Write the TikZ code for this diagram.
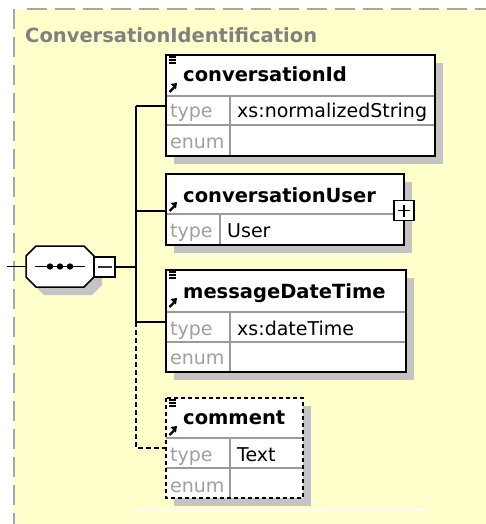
\documentclass[tikz,border=0pt]{standalone}
\usepackage{fontspec}
\setmainfont{DejaVu Sans}
\definecolor{panel}{HTML}{FFFFCC}
\definecolor{rim}{HTML}{A8A8A8}
\definecolor{dropgray}{HTML}{C4C4C4}
\definecolor{rule}{HTML}{9A9A9A}
\definecolor{faint}{HTML}{A0A0A0}
\definecolor{titlegray}{HTML}{808080}
\begin{document}
\begin{tikzpicture}[x=1pt,y=-1pt,
  wire/.style={line width=1.5pt, black},
  frame/.style={draw=black, line width=1.5pt, fill=white, inner sep=0pt, outer sep=0pt, anchor=north west},
  divider/.style={draw=rule, line width=1.2pt},
  hdr/.style={font=\bfseries\fontsize{19.5}{20}\selectfont, anchor=base west, inner sep=0pt},
  val/.style={font=\fontsize{19}{20}\selectfont, anchor=base west, inner sep=0pt},
  key/.style={val, text=faint},
  linesicon/.pic={\draw[line width=1.1pt] (0,0) -- (7,0) (0,3) -- (7,3) (0,6) -- (7,6);},
  refarrow/.pic={\fill (8,0) -- (1.5,1) -- (7,6.5) -- cycle;
                 \draw[line width=2.2pt] (0.5,9) -- (5,4.5);}
]
\useasboundingbox (0,0) rectangle (486,524);

% panel of the complex type
\fill[panel] (14,9) rectangle (486,524);
\draw[rim, line width=2pt, dash pattern=on 20pt off 8pt] (27,9) -- (486,9);
\draw[rim, line width=2pt, dash pattern=on 20pt off 8pt] (14,9) -- (14,524);
\node[hdr, text=titlegray] (title) at (25,43) {ConversationIdentification};

% drop shadows
\fill[dropgray] (174,63) rectangle (443,164);
\fill[dropgray] (174,182) rectangle (412,253);
\fill[dropgray] (174,278) rectangle (414,380);
\fill[dropgray] (174,406) rectangle (311,506);
\fill[dropgray] (44,254) -- (92,254) -- (102,264) -- (102,285) -- (92,295) -- (44,295) -- (34,285) -- (34,264) -- cycle;

% element: conversationId
\node[frame, minimum width=269pt, minimum height=101pt] (cid) at (166,55) {};
\draw[divider] (166,96) -- (435,96) (166,125) -- (435,125) (230,96) -- (230,156);
\draw[line width=1.5pt] (cid.north west) rectangle (cid.south east);
\pic at (169,57) {linesicon};
\pic at (169,83) {refarrow};
\node[hdr] (cidname) at (183,82) {conversationId};
\node[key] (cidk1) at (170,117.5) {type};
\node[val] (cidv1) at (237,117.5) {xs:normalizedString};
\node[key] (cidk2) at (170,148) {enum};

% element: conversationUser
\node[frame, minimum width=238pt, minimum height=71pt] (cuser) at (166,174) {};
\draw[divider] (166,214) -- (404,214) (220,214) -- (220,245);
\draw[line width=1.5pt] (cuser.north west) rectangle (cuser.south east);
\pic at (169,202) {refarrow};
\node[hdr] (cusername) at (183,202) {conversationUser};
\node[key] (cuserk1) at (170,237) {type};
\node[val] (cuserv1) at (227,237) {User};
\node[draw=black, line width=1.3pt, fill=white, minimum size=20pt, inner sep=0pt] (expand) at (404,210.5) {};
\draw[line width=1.3pt] ([xshift=-6pt]expand.center) -- ([xshift=6pt]expand.center)
                        ([yshift=-6pt]expand.center) -- ([yshift=6pt]expand.center);

% element: messageDateTime
\node[frame, minimum width=240pt, minimum height=102pt] (mdt) at (166,270) {};
\draw[divider] (166,312) -- (406,312) (166,342) -- (406,342) (230,312) -- (230,372);
\draw[line width=1.5pt] (mdt.north west) rectangle (mdt.south east);
\pic at (169,272) {linesicon};
\pic at (169,298) {refarrow};
\node[hdr] (mdtname) at (183,298) {messageDateTime};
\node[key] (mdtk1) at (170,335) {type};
\node[val] (mdtv1) at (237,335) {xs:dateTime};
\node[key] (mdtk2) at (170,364) {enum};

% optional element: comment
\node[frame, draw=none, minimum width=137pt, minimum height=100pt] (cmt) at (166,398) {};
\draw[divider] (166,438) -- (303,438) (166,468) -- (303,468) (230,438) -- (230,498);
\draw[line width=1.5pt, dash pattern=on 4pt off 3pt] (cmt.north west) rectangle (cmt.south east);
\pic at (169,400) {linesicon};
\pic at (169,426) {refarrow};
\node[hdr] (cmtname) at (183,424) {comment};
\node[key] (cmtk1) at (170,461) {type};
\node[val] (cmtv1) at (237,461) {Text};
\node[key] (cmtk2) at (170,492) {enum};

% sequence compositor
\path[draw=black, line width=1.5pt, fill=white]
  (36,246) -- (84,246) -- (94,256) -- (94,277) -- (84,287) -- (36,287) -- (26,277) -- (26,256) -- cycle;
\node[inner sep=0pt, minimum width=68pt, minimum height=41pt] (seq) at (60,266.5) {};
\draw[line width=1.5pt] (35,266.5) -- (85,266.5);
\fill (50,266.5) circle (3.2pt) (60,266.5) circle (3.2pt) (70,266.5) circle (3.2pt);
\node[draw=black, line width=1.3pt, fill=white, minimum width=21pt, minimum height=20pt, inner sep=0pt] (collapse) at (104.5,267) {};
\draw[line width=1.5pt, black!80] ([xshift=-7pt]collapse.center) -- ([xshift=7pt]collapse.center);

% connectors
\coordinate (entry) at (7,266.5);
\coordinate (t1) at (136,106);
\coordinate (t2) at (136,211);
\coordinate (tj) at (136,267);
\coordinate (t3) at (136,322);
\coordinate (t4) at (136,448);
\draw[wire] (entry) -- (seq.west);
\draw[wire] (collapse.east) -- (tj);
\draw[wire] (t1) -- (t3);
\draw[wire] (t1) -- (t1 -| cid.west);
\draw[wire] (t2) -- (t2 -| cuser.west);
\draw[wire] (t3) -- (t3 -| mdt.west);
\draw[wire, dash pattern=on 5pt off 3pt] (t3) -- (t4) -- (t4 -| cmt.west);

% closing rule below the sequence
\draw[white, line width=2pt] (136,510) -- (426,510);
\end{tikzpicture}
\end{document}
